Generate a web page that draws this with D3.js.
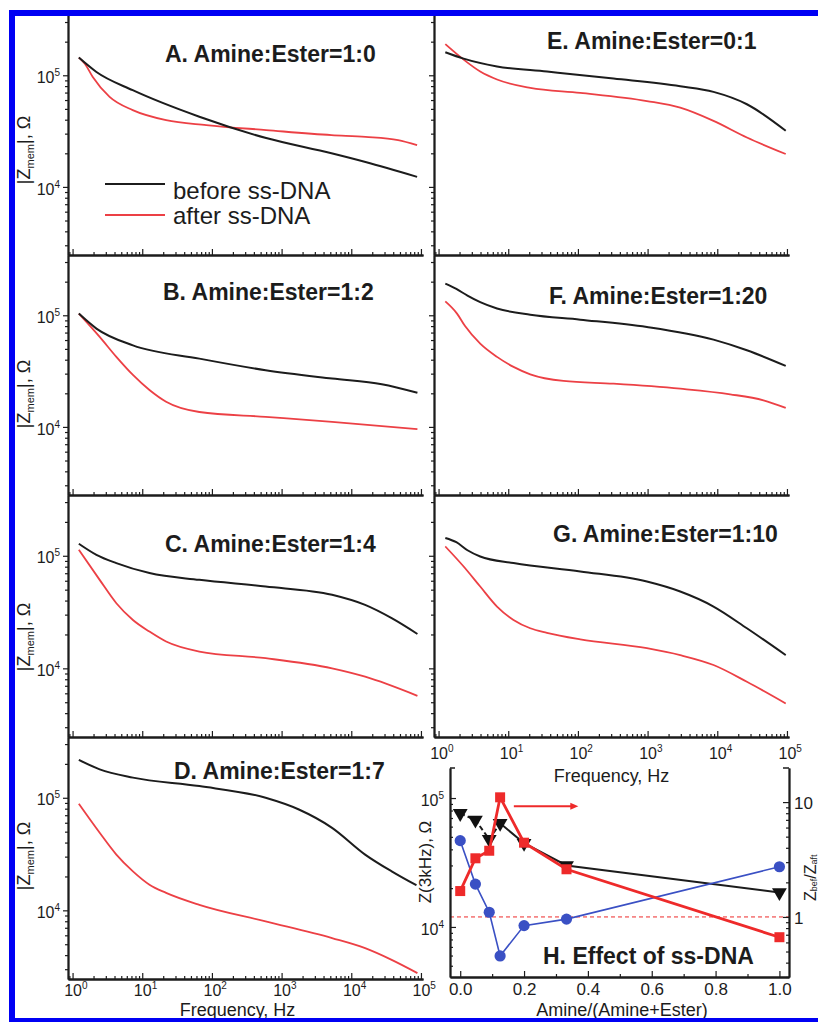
<!DOCTYPE html>
<html>
<head>
<meta charset="utf-8">
<script src="https://cdn.jsdelivr.net/npm/d3@7"></script>
<style>
  body { margin: 0; background: #fff; }
  svg { display: block; font-family: "Liberation Sans", Arial, sans-serif; }
</style>
</head>
<body>
<svg id="chart" width="818" height="1022"></svg>
<script>
// |Z_mem| spectra, pairs of [frequency Hz, impedance ohm]
var panelA_before = [[1.23,144000],[2.2,107000],[7.3,73500],[66,42500],[600,27400],[5200,20000],[16000,16700],[88000,12300]];
var panelA_after  = [[1.23,144000],[1.5,127000],[1.95,96600],[3.4,64000],[7.3,48700],[22,39600],[83,35800],[600,32300],[5200,29100],[16000,28100],[47000,26300],[88000,23700]];
var panelB_before = [[1.23,103500],[2.2,76000],[7.35,53800],[66,40900],[590,32200],[5300,27100],[27400,24100],[89000,20200]];
var panelB_after  = [[1.23,103500],[2.45,64000],[4.25,42400],[7.35,29200],[12.7,21400],[22,16800],[66,13600],[590,12300],[5300,11100],[89000,9550]];
var panelC_before = [[1.23,128000],[2.2,102000],[4.25,86100],[12.7,70200],[66,61100],[590,53300],[5300,45000],[15800,36600],[38000,27900],[89000,20200]];
var panelC_after  = [[1.23,113000],[2.45,61100],[4.25,37900],[7.35,26900],[12.7,21200],[22,17300],[66,14100],[590,12300],[5300,10000],[15800,8430],[89000,5700]];
var panelD_before = [[1.23,217000],[2.45,179000],[7.35,151000],[66,127000],[590,100000],[1770,78700],[5300,54100],[15800,31300],[38000,22200],[86000,16700]];
var panelD_after  = [[1.23,88500],[2.45,48900],[4.25,31300],[7.35,22200],[12.7,16900],[22,14300],[66,11200],[590,7980],[5300,5670],[15800,4610],[38000,3630],[89000,2770]];
var panelE_before = [[1.25,161000],[2.29,141000],[6.9,120000],[36,108000],[324,93500],[2940,79800],[8830,71000],[26600,55000],[96000,31800]];
var panelE_after  = [[1.25,190000],[2.29,138000],[3.96,108000],[6.9,91600],[20.7,77000],[108,69600],[977,58800],[2940,51200],[8830,39000],[26600,27700],[96000,19700]];
var panelF_before = [[1.25,192000],[1.8,172000],[2.6,150000],[3.96,131000],[6.9,115000],[20.7,101000],[108,91400],[977,78500],[8830,60500],[26600,48600],[96000,35200]];
var panelF_after  = [[1.25,133000],[1.84,103500],[2.4,80000],[3.96,55700],[6.9,42400],[11.9,34500],[20.7,29600],[62,25800],[324,24400],[2940,22000],[15300,19600],[46000,17300],[96000,14800]];
var panelG_before = [[1.25,144000],[1.8,132000],[2.6,112000],[3.96,98600],[11.9,86100],[108,72500],[977,59000],[2940,48100],[8830,35400],[26600,22700],[96000,13100]];
var panelG_after  = [[1.25,121000],[2.29,80300],[3.96,53300],[6.9,35400],[11.9,26900],[20.7,22700],[35.9,20700],[108,18100],[977,15100],[2940,13100],[8830,10700],[26600,7600],[96000,4880]];

// panel H: Z at 3 kHz vs amine fraction
var amineFraction = [0, 0.0476, 0.0909, 0.125, 0.2, 0.333, 1.0];
var z3k_before = [76100, 67500, 47900, 63700, 44600, 30000, 18500];
var z3k_after  = [46700, 21500, 13000, 5960, 10240, 11500, 29300];
var z3k_ratio  = [1.68, 3.24, 3.77, 11.0, 4.43, 2.60, 0.666];

var freqTicks = [1, 10, 100, 1000, 10000, 100000];
var zTicks = [1e4, 1e5];
var fracTicks = [0, 0.2, 0.4, 0.6, 0.8, 1.0];
var ratioTicks = [1, 10];

var svg = d3.select('#chart');
var BLACK = '#1c1c1c', RED = '#ec4045', HRED = '#ee2a2a', HBLUE = '#3a50c4';

var cols = [{x0: 68, x1: 423}, {x0: 434, x1: 789}];
var rows = [{y0: 15, y1: 255}, {y0: 255, y1: 495}, {y0: 495, y1: 737}, {y0: 737, y1: 979}];

var panels = [
  {title: 'A. Amine:Ester=1:0', col: 0, row: 0, tx: 165, ty: 62, before: panelA_before, after: panelA_after, labelY: 150},
  {title: 'B. Amine:Ester=1:2', col: 0, row: 1, tx: 163, ty: 300, before: panelB_before, after: panelB_after, labelY: 394},
  {title: 'C. Amine:Ester=1:4', col: 0, row: 2, tx: 165, ty: 552, before: panelC_before, after: panelC_after, labelY: 637},
  {title: 'D. Amine:Ester=1:7', col: 0, row: 3, tx: 174, ty: 779, before: panelD_before, after: panelD_after, labelY: 856,
   tickY: 996, freqY: 1016},
  {title: 'E. Amine:Ester=0:1', col: 1, row: 0, tx: 547, ty: 49, before: panelE_before, after: panelE_after},
  {title: 'F. Amine:Ester=1:20', col: 1, row: 1, tx: 549, ty: 304, before: panelF_before, after: panelF_after},
  {title: 'G. Amine:Ester=1:10', col: 1, row: 2, tx: 553, ty: 542, before: panelG_before, after: panelG_after,
   tickY: 759, freqY: 782}
];

function logMinors(domain, majors) {
  var out = [];
  for (var e = -1; e <= 6; e++) {
    for (var m = 1; m <= 9; m++) {
      var v = m * Math.pow(10, e);
      if (v >= domain[0] && v <= domain[1] && majors.indexOf(v) < 0) out.push(v);
    }
  }
  return out;
}

function powLabel(sel, d) {
  sel.text(null);
  sel.append('tspan').text('10');
  sel.append('tspan').attr('dy', -7).attr('font-size', 10).text(Math.round(Math.log10(d)));
}

function styleAxis(g) {
  g.select('.domain').attr('stroke', BLACK).attr('stroke-width', 1.8);
  g.selectAll('.tick line').attr('stroke', BLACK).attr('stroke-width', 1.2);
}

var xDomain = [0.86, 1.07e5];
var yDomain = [2455, 346700];

panels.forEach(function (p) {
  var c = cols[p.col], r = rows[p.row];
  var x = d3.scaleLog().domain(xDomain).range([c.x0, c.x1]);
  var y = d3.scaleLog().domain(yDomain).range([r.y1, r.y0]);
  var g = svg.append('g');

  var line = d3.line()
    .x(function (d) { return x(d[0]); })
    .y(function (d) { return y(d[1]); })
    .curve(d3.curveMonotoneX);

  g.append('path').datum(p.after).attr('d', line)
    .attr('fill', 'none').attr('stroke', RED).attr('stroke-width', 1.8);
  g.append('path').datum(p.before).attr('d', line)
    .attr('fill', 'none').attr('stroke', BLACK).attr('stroke-width', 2);

  // y axis: major + minor ticks outside
  var ya = g.append('g').attr('transform', 'translate(' + c.x0 + ',0)')
    .call(d3.axisLeft(y).tickValues(zTicks).tickSize(5).tickSizeOuter(0).tickPadding(3));
  ya.call(styleAxis);
  ya.selectAll('.tick text').attr('font-size', 16).attr('fill', BLACK).attr('font-family', null)
    .attr('dy', '0.45em')
    .each(function (d) {
      if (p.col === 0) powLabel(d3.select(this), d); else d3.select(this).remove();
    });
  g.append('g').attr('transform', 'translate(' + c.x0 + ',0)')
    .call(d3.axisLeft(y).tickValues(logMinors(yDomain, zTicks)).tickSize(3).tickSizeOuter(0).tickFormat(''))
    .call(styleAxis);

  // x axis: ticks pointing inward
  var xa = g.append('g').attr('transform', 'translate(0,' + r.y1 + ')')
    .call(d3.axisBottom(x).tickValues(freqTicks).tickSize(-6).tickSizeOuter(0).tickPadding(0));
  xa.call(styleAxis);
  xa.selectAll('.tick text').attr('font-size', 16).attr('fill', BLACK).attr('font-family', null)
    .attr('text-anchor', 'start').attr('dx', -8.9).attr('dy', null)
    .attr('y', p.tickY ? p.tickY - r.y1 : 0)
    .each(function (d) {
      if (p.tickY) powLabel(d3.select(this), d); else d3.select(this).remove();
    });
  g.append('g').attr('transform', 'translate(0,' + r.y1 + ')')
    .call(d3.axisBottom(x).tickValues(logMinors(xDomain, freqTicks)).tickSize(-3).tickSizeOuter(0).tickFormat(''))
    .call(styleAxis);

  if (p.freqY) {
    g.append('text').attr('x', (c.x0 + c.x1) / 2 - (p.col === 0 ? 8 : 0))
      .attr('y', p.freqY).attr('text-anchor', 'middle')
      .attr('font-size', 18).attr('fill', BLACK).text('Frequency, Hz');
  }

  if (p.labelY) {
    var t = g.append('text').attr('transform', 'translate(30,' + p.labelY + ') rotate(-90)')
      .attr('text-anchor', 'middle').attr('font-size', 18).attr('fill', BLACK);
    t.append('tspan').text('|Z');
    t.append('tspan').attr('font-size', 11).attr('dy', 4).text('mem');
    t.append('tspan').attr('dy', -4).text('|, Ω');
  }

  g.append('text').attr('x', p.tx).attr('y', p.ty)
    .attr('font-size', 23).attr('font-weight', 'bold').attr('fill', BLACK).text(p.title);
});

// legend in panel A
var legend = [{name: 'before ss-DNA', color: BLACK, y: 184, ty: 199}, {name: 'after ss-DNA', color: RED, y: 215, ty: 224}];
legend.forEach(function (l) {
  svg.append('line').attr('x1', 105).attr('x2', 165).attr('y1', l.y).attr('y2', l.y)
    .attr('stroke', l.color).attr('stroke-width', 1.8);
  svg.append('text').attr('x', 173).attr('y', l.ty).attr('font-size', 24).attr('fill', BLACK).text(l.name);
});

// ---- panel H ----
var hx = d3.scaleLinear().domain([-0.032, 1.03]).range([450, 789]);
var hyL = d3.scaleLog().domain([4090, 171000]).range([977, 768]);
var hyR = d3.scaleLog().domain([0.30, 19.8]).range([977, 768]);
var hg = svg.append('g');

var hBefore = amineFraction.map(function (f, i) { return [f, z3k_before[i]]; });
var hAfter = amineFraction.map(function (f, i) { return [f, z3k_after[i]]; });
var hRatio = amineFraction.map(function (f, i) { return [f, z3k_ratio[i]]; });

var lineL = d3.line().x(function (d) { return hx(d[0]); }).y(function (d) { return hyL(d[1]); });
var lineR = d3.line().x(function (d) { return hx(d[0]); }).y(function (d) { return hyR(d[1]); });

// ratio = 1 reference
hg.append('line').attr('x1', 450).attr('x2', 789).attr('y1', hyR(1)).attr('y2', hyR(1))
  .attr('stroke', HRED).attr('stroke-width', 1).attr('stroke-dasharray', '4,3');

hg.append('path').datum(hBefore.slice(0, 4)).attr('d', lineL)
  .attr('fill', 'none').attr('stroke', BLACK).attr('stroke-width', 2).attr('stroke-dasharray', '5,3');
hg.append('path').datum(hBefore.slice(3)).attr('d', lineL)
  .attr('fill', 'none').attr('stroke', BLACK).attr('stroke-width', 2);
hg.selectAll('.tri').data(hBefore).enter().append('path')
  .attr('d', d3.symbol().type(d3.symbolTriangle).size(95))
  .attr('transform', function (d) { return 'translate(' + hx(d[0]) + ',' + hyL(d[1]) + ') rotate(180)'; })
  .attr('fill', '#111');

hg.append('path').datum(hAfter).attr('d', lineL)
  .attr('fill', 'none').attr('stroke', HBLUE).attr('stroke-width', 1.6);
hg.selectAll('.dot').data(hAfter).enter().append('circle')
  .attr('cx', function (d) { return hx(d[0]); }).attr('cy', function (d) { return hyL(d[1]); })
  .attr('r', 5.6).attr('fill', HBLUE);

hg.append('path').datum(hRatio).attr('d', lineR)
  .attr('fill', 'none').attr('stroke', HRED).attr('stroke-width', 2.8);
hg.selectAll('.sq').data(hRatio).enter().append('rect')
  .attr('x', function (d) { return hx(d[0]) - 5; }).attr('y', function (d) { return hyR(d[1]) - 5; })
  .attr('width', 10).attr('height', 10).attr('fill', HRED);

// arrow pointing to right axis
var ay = hyR(9.2);
hg.append('line').attr('x1', hx(0.168)).attr('x2', hx(0.355)).attr('y1', ay).attr('y2', ay)
  .attr('stroke', HRED).attr('stroke-width', 2);
hg.append('path').attr('d', 'M' + hx(0.37) + ',' + ay + 'l-8,-3.5l0,7z').attr('fill', HRED);

// axes of H
var hl = hg.append('g').attr('transform', 'translate(450,0)')
  .call(d3.axisLeft(hyL).tickValues(zTicks).tickSize(-6).tickSizeOuter(0).tickPadding(6));
hl.call(styleAxis);
hl.selectAll('.tick text').attr('font-size', 16).attr('fill', BLACK).attr('font-family', null)
  .attr('dy', '0.45em').each(function (d) { powLabel(d3.select(this), d); });
hg.append('g').attr('transform', 'translate(450,0)')
  .call(d3.axisLeft(hyL).tickValues(logMinors([4090, 171000], zTicks)).tickSize(-3).tickSizeOuter(0).tickFormat(''))
  .call(styleAxis);

var hr = hg.append('g').attr('transform', 'translate(789,0)')
  .call(d3.axisRight(hyR).tickValues(ratioTicks).tickSize(-6).tickSizeOuter(0).tickPadding(5)
    .tickFormat(d3.format('d')));
hr.call(styleAxis);
hr.selectAll('.tick text').attr('font-size', 17).attr('fill', BLACK).attr('font-family', null).attr('dy', '0.4em');
hg.append('g').attr('transform', 'translate(789,0)')
  .call(d3.axisRight(hyR).tickValues(logMinors([0.30, 19.8], ratioTicks)).tickSize(-3).tickSizeOuter(0).tickFormat(''))
  .call(styleAxis);
// top caps of the two vertical axes
hg.append('line').attr('x1', 450).attr('x2', 455).attr('y1', 768).attr('y2', 768).attr('stroke', BLACK).attr('stroke-width', 1.5);
hg.append('line').attr('x1', 783).attr('x2', 789).attr('y1', 768).attr('y2', 768).attr('stroke', BLACK).attr('stroke-width', 1.5);

var hb = hg.append('g').attr('transform', 'translate(0,977)')
  .call(d3.axisBottom(hx).tickValues(fracTicks).tickSize(-6).tickSizeOuter(0).tickPadding(7)
    .tickFormat(d3.format('.1f')));
hb.call(styleAxis);
hb.selectAll('.tick text').attr('font-size', 17).attr('fill', BLACK).attr('font-family', null).attr('dy', '0.65em');
hg.append('g').attr('transform', 'translate(0,977)')
  .call(d3.axisBottom(hx).tickValues([0.1, 0.3, 0.5, 0.7, 0.9]).tickSize(-3).tickSizeOuter(0).tickFormat(''))
  .call(styleAxis);

hg.append('text').attr('x', 622).attr('y', 1016).attr('text-anchor', 'middle')
  .attr('font-size', 18).attr('fill', BLACK).text('Amine/(Amine+Ester)');
hg.append('text').attr('transform', 'translate(431,862) rotate(-90)').attr('text-anchor', 'middle')
  .attr('font-size', 17).attr('fill', BLACK).text('Z(3kHz), Ω');
var rt = hg.append('text').attr('transform', 'translate(816,901) rotate(-90)')
  .attr('font-size', 16).attr('fill', BLACK);
rt.append('tspan').text('Z');
rt.append('tspan').attr('font-size', 9).attr('dy', 1).text('bef');
rt.append('tspan').attr('dy', -1).text('/Z');
rt.append('tspan').attr('font-size', 9).attr('dy', 1).text('aft');
hg.append('text').attr('x', 543).attr('y', 964).attr('font-size', 23).attr('font-weight', 'bold')
  .attr('fill', BLACK).text('H. Effect of ss-DNA');

// blue frame
var frame = [{x: 9, y: 10, w: 809, h: 6}, {x: 9, y: 10, w: 6, h: 1014}, {x: 9, y: 1018, w: 809, h: 6}];
svg.selectAll('.frame').data(frame).enter().append('rect')
  .attr('x', function (d) { return d.x; }).attr('y', function (d) { return d.y; })
  .attr('width', function (d) { return d.w; }).attr('height', function (d) { return d.h; })
  .attr('fill', '#0000f4');
</script>
</body>
</html>
